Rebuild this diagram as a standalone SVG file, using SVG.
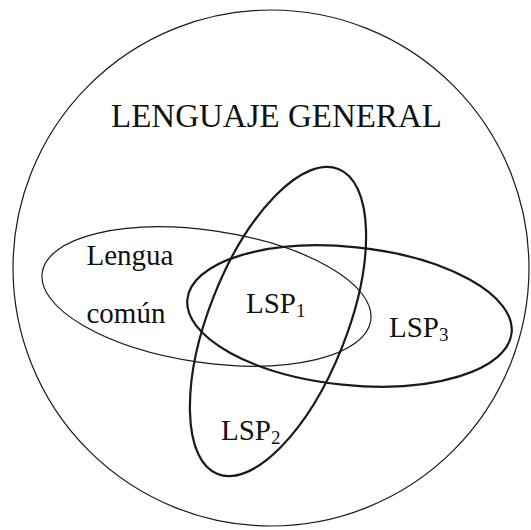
<svg xmlns="http://www.w3.org/2000/svg" width="531" height="530" viewBox="0 0 531 530">
<style>
.shape{fill:none;stroke:#1a1a1a}
.thin{stroke-width:1.2}
.thick{stroke-width:2.2}
text{font-family:'Liberation Serif','Times New Roman',serif;fill:#111}
.lbl{font-size:29px}
.sub{font-size:19px}
</style>
<rect width="531" height="530" fill="#fff"/>
<g id="lenguaje-general">
<circle class="shape thin" cx="271" cy="268" r="258"/>
<text x="111" y="127" font-size="33">LENGUAJE GENERAL</text>
</g>
<g id="lengua-comun">
<ellipse class="shape thin" cx="206.5" cy="296.5" rx="166" ry="66" transform="rotate(8.3 206.5 296.5)"/>
<text class="lbl" x="86.5" y="265">Lengua</text>
<text class="lbl" x="86.5" y="323">común</text>
</g>
<g id="lsp3">
<ellipse class="shape thick" cx="349.5" cy="316" rx="163" ry="69" transform="rotate(5.9 349.5 316)"/>
<text class="lbl" x="389" y="337">LSP<tspan class="sub" dy="4">3</tspan></text>
</g>
<g id="lsp2">
<ellipse class="shape thick" cx="278" cy="321.5" rx="69" ry="164" transform="rotate(21.6 278 321.5)"/>
<text class="lbl" x="221" y="440">LSP<tspan class="sub" dy="4">2</tspan></text>
</g>
<g id="lsp1">
<text class="lbl" x="246" y="313">LSP<tspan class="sub" dy="4">1</tspan></text>
</g>
<g id="connectors"/>
</svg>
